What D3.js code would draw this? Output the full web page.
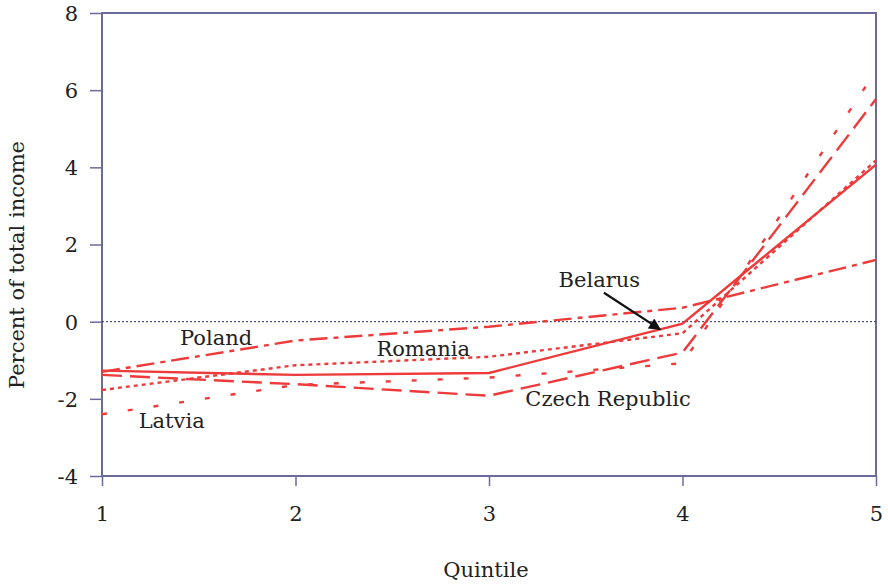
<!DOCTYPE html>
<html><head><meta charset="utf-8">
<script src="https://cdn.jsdelivr.net/npm/d3@7"></script>
<style>body{margin:0;background:#fff}svg{display:block}text{font-family:"DejaVu Serif",serif;fill:#222}</style>
</head><body><svg id="c" width="888" height="584"></svg>
<script>
const quintiles = [1, 2, 3, 4, 5];
const yTicks = [-4, -2, 0, 2, 4, 6, 8];
const poland  = [-1.30, -0.49, -0.13, 0.36, 1.60];
const belarus = [-1.27, -1.38, -1.33, -0.05, 4.07];
const romania = [-1.77, -1.13, -0.91, -0.30, 4.18];
const czech   = [-1.38, -1.62, -1.92, -0.80, 5.77];
const latvia  = [-2.40, -1.64, -1.45, -1.08, 6.50];
const seriesNames = ["Poland", "Belarus", "Romania", "Czech Republic", "Latvia"];
const seriesValues = [poland, belarus, romania, czech, latvia];
const dashes = ["18,6,5,6", null, "4,4", "20,8", "5,21"];

const svg = d3.select("#c");
const L = 102, R = 876, T = 13, B = 476;
const x = d3.scaleLinear().domain([1, 5]).range([L, R]);
const y = d3.scaleLinear().domain([-4, 8]).range([B, T]);
const axisCol = "#6b6b9b";
const FS = "21px";

// frame
svg.append("rect").attr("x", L).attr("y", T).attr("width", R - L).attr("height", B - T)
  .attr("fill", "none").attr("stroke", axisCol).attr("stroke-width", 2);

// y axis
const ya = svg.append("g").attr("transform", `translate(${L},0)`)
  .call(d3.axisLeft(y).tickValues(yTicks).tickSize(12).tickPadding(12).tickFormat(d => String(d)));
ya.select(".domain").remove();
ya.selectAll(".tick line").attr("stroke", axisCol).attr("stroke-width", 1.5);
ya.selectAll(".tick text").style("font-size", FS).style("font-family", "DejaVu Serif").attr("fill", "#222").attr("dy", "0.35em");

// x axis
const xa = svg.append("g").attr("transform", `translate(0,${B})`)
  .call(d3.axisBottom(x).tickValues(quintiles).tickSize(10).tickPadding(20).tickFormat(d => String(d)));
xa.select(".domain").remove();
xa.selectAll(".tick line").attr("stroke", axisCol).attr("stroke-width", 1.5);
xa.selectAll(".tick text").style("font-size", FS).style("font-family", "DejaVu Serif").attr("fill", "#222");

// zero line
svg.append("line").attr("x1", L).attr("x2", R).attr("y1", y(0)).attr("y2", y(0))
  .attr("stroke", "#2b2b70").attr("stroke-width", 1).attr("stroke-dasharray", "2,2");

// series
const line = d3.line().x((d, i) => x(quintiles[i])).y(d => y(d));
seriesValues.forEach((vals, k) => {
  svg.append("path").datum(vals).attr("d", line)
    .attr("fill", "none").attr("stroke", "#ee3a3a").attr("stroke-width", 2.4)
    .attr("stroke-dasharray", dashes[k]);
});

// labels
const lab = [
  {t: "Poland", qx: 1.59, qy: -0.41},
  {t: "Romania", qx: 2.66, qy: -0.70},
  {t: "Belarus", qx: 3.57, qy: 1.09},
  {t: "Czech Republic", qx: 3.615, qy: -2.0},
  {t: "Latvia", qx: 1.36, qy: -2.57}
];
lab.forEach(l => svg.append("text").attr("x", x(l.qx)).attr("y", y(l.qy))
  .attr("text-anchor", "middle").attr("dy", "0.35em").style("font-size", FS).text(l.t));

// arrow
svg.append("defs").append("marker").attr("id", "ah").attr("viewBox", "0 0 10 10")
  .attr("refX", 9).attr("refY", 5)
  .attr("orient", "auto").attr("markerUnits", "userSpaceOnUse")
  .attr("markerWidth", 16).attr("markerHeight", 12)
  .append("path").attr("d", "M0,0 L10,5 L0,10 Z").attr("fill", "#111");
svg.append("line").attr("x1", x(3.594)).attr("y1", y(0.75)).attr("x2", x(3.884)).attr("y2", y(-0.2))
  .attr("stroke", "#111").attr("stroke-width", 2.2).attr("marker-end", "url(#ah)");

// axis titles
svg.append("text").attr("x", x(3) - 3).attr("y", 577).attr("text-anchor", "middle").style("font-size", FS).text("Quintile");
svg.append("text").attr("transform", `translate(24,265) rotate(-90)`).attr("text-anchor", "middle")
  .style("font-size", FS).text("Percent of total income");
</script></body></html>
